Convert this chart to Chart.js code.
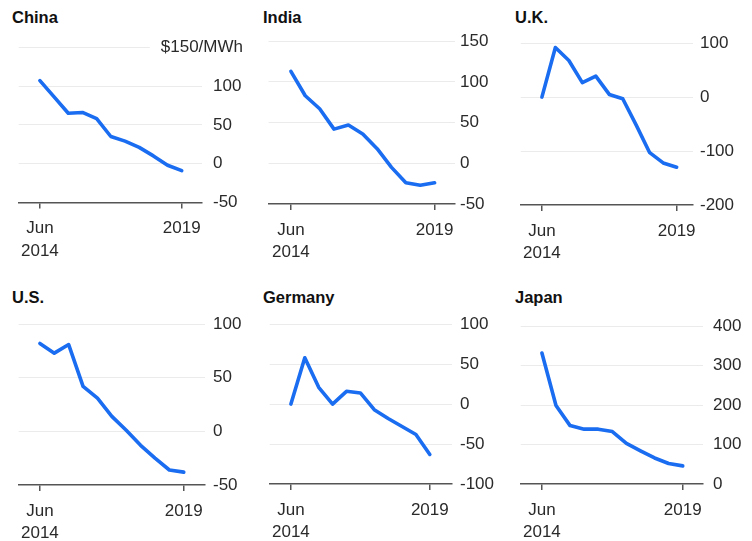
<!DOCTYPE html>
<html>
<head>
<meta charset="utf-8">
<script src="https://cdn.jsdelivr.net/npm/chart.js@4"></script>
<style>
  html, body { margin:0; padding:0; background:#fff; }
  body { width:752px; height:541px; position:relative; overflow:hidden; font-family:"Liberation Sans", Arial, sans-serif; }
  .title { position:absolute; font-weight:bold; font-size:16.5px; line-height:16px; color:#111; white-space:nowrap; }
  canvas { position:absolute; }
</style>
</head>
<body>
<script>
// ---- data (semiannual points, Jun 2014 .. 2019) ----
const xTickLabels = [["Jun", "2014"], "2019"];
const xTickIndex = [0, 10];

const china   = [107, 86, 65, 66, 58, 35, 29, 21, 10, -2, -9];
const india   = [113, 83, 67, 42, 47, 36, 18, -5, -24, -27, -24];
const uk      = [0, 92, 68, 27, 39, 5, -3, -52, -103, -122, -130];
const us      = [82, 73, 81, 42, 31, 14, 1, -13, -25, -36, -38];
const germany = [0, 58, 21, 0, 16, 14, -7, -18, -28, -38, -63];
const japan   = [332, 199, 148, 139, 139, 133, 103, 84, 66, 52, 46];

const chinaTicks   = [-50, 0, 50, 100, 150];
const indiaTicks   = [-50, 0, 50, 100, 150];
const ukTicks      = [-200, -100, 0, 100];
const usTicks      = [-50, 0, 50, 100];
const germanyTicks = [-100, -50, 0, 50, 100];
const japanTicks   = [0, 100, 200, 300, 400];

const titles = ["China", "India", "U.K.", "U.S.", "Germany", "Japan"];
const unitLabel = "$150/MWh";

// ---- layout ----
const panels = [
  { title: titles[0], data: china,   ticks: chinaTicks,   L: 12,  R: 202, T: 38,  B: 202.5, x0: 34,  x10: 181, labelX: 213, tx: 12,  ty: 9,   unit: true },
  { title: titles[1], data: india,   ticks: indiaTicks,   L: 263, R: 455, T: 38,  B: 204,   x0: 286, x10: 434, labelX: 460, tx: 263, ty: 9 },
  { title: titles[2], data: uk,      ticks: ukTicks,      L: 514, R: 693, T: 38,  B: 205,   x0: 536, x10: 676, labelX: 700, tx: 515, ty: 9 },
  { title: titles[3], data: us,      ticks: usTicks,      L: 12,  R: 205, T: 318, B: 485,   x0: 34,  x10: 183, labelX: 213, tx: 12,  ty: 288.5 },
  { title: titles[4], data: germany, ticks: germanyTicks, L: 263, R: 452, T: 318, B: 484,   x0: 285, x10: 429, labelX: 460, tx: 263, ty: 288.5 },
  { title: titles[5], data: japan,   ticks: japanTicks,   L: 514, R: 703, T: 318, B: 484,   x0: 536, x10: 682, labelX: 713, tx: 515, ty: 288.5 }
];

Chart.defaults.font.family = '"Liberation Sans", Arial, Helvetica, sans-serif';
Chart.defaults.font.size = 17;
Chart.defaults.color = '#2a2a2a';

const PAD_TOP = 12;
const CW = 238;

const unitPlugin = {
  id: 'unitLabel',
  afterDraw(chart) {
    if (!chart.options.plugins.unitLabel || !chart.options.plugins.unitLabel.show) return;
    const ys = chart.scales.y;
    const y = ys.getPixelForValue(ys.max);
    const ctx = chart.ctx;
    ctx.save();
    ctx.font = '17px "Liberation Sans", Arial, sans-serif';
    ctx.fillStyle = '#2a2a2a';
    ctx.textAlign = 'right';
    ctx.textBaseline = 'middle';
    const xr = chart.width - 7;
    ctx.fillText(unitLabel, xr, y);
    const w = ctx.measureText(unitLabel).width;
    ctx.strokeStyle = '#ebebeb';
    ctx.lineWidth = 1;
    ctx.beginPath();
    ctx.moveTo(chart.chartArea.left, Math.round(y) + 0.5);
    ctx.lineTo(xr - w - 11, Math.round(y) + 0.5);
    ctx.stroke();
    ctx.restore();
  }
};

panels.forEach(p => {
  const t = document.createElement('div');
  t.className = 'title';
  t.textContent = p.title;
  t.style.left = p.tx + 'px';
  t.style.top = p.ty + 'px';
  document.body.appendChild(t);

  const CH = p.T < 100 ? 240 : (541 - (p.T - PAD_TOP));
  const cv = document.createElement('canvas');
  cv.width = CW; cv.height = CH;
  cv.style.left = p.L + 'px';
  cv.style.top = (p.T - PAD_TOP) + 'px';
  cv.style.width = CW + 'px'; cv.style.height = CH + 'px';
  document.body.appendChild(cv);

  const ppi = (p.x10 - p.x0) / 10;
  const xmin = -(p.x0 - p.L) / ppi;
  const xmax = 10 + (p.R - p.x10) / ppi;
  const ymin = Math.min(...p.ticks), ymax = Math.max(...p.ticks);

  new Chart(cv, {
    type: 'line',
    data: {
      datasets: [{
        data: p.data.map((v, i) => ({ x: i, y: v })),
        borderColor: '#1a6cf0',
        borderWidth: 3.6,
        pointRadius: 0,
        tension: 0,
        borderJoinStyle: 'round',
        borderCapStyle: 'round',
        clip: false
      }]
    },
    options: {
      responsive: false,
      animation: false,
      devicePixelRatio: 1,
      layout: { padding: { top: PAD_TOP, left: 0, right: 0, bottom: 0 } },
      plugins: { legend: { display: false }, tooltip: { enabled: false }, unitLabel: { show: !!p.unit } },
      scales: {
        x: {
          type: 'linear',
          min: xmin, max: xmax,
          afterBuildTicks: s => { s.ticks = xTickIndex.map(v => ({ value: v })); },
          afterFit: s => { s.height = CH - PAD_TOP - (p.B - p.T); },
          ticks: {
            autoSkip: false, maxRotation: 0, padding: 9,
            font: { size: 17, lineHeight: 1.32 },
            callback: (v) => xTickLabels[xTickIndex.indexOf(v)]
          },
          grid: { drawOnChartArea: false, drawTicks: true, tickLength: 6, color: '#555', lineWidth: 1.5 },
          border: { display: true, color: '#555', width: 1.5 }
        },
        y: {
          position: 'right',
          min: ymin, max: ymax,
          afterBuildTicks: s => { s.ticks = p.ticks.map(v => ({ value: v })); },
          afterFit: s => { s.width = CW - (p.R - p.L); },
          ticks: {
            padding: p.labelX - p.R,
            font: { size: 17 },
            callback: (v) => (p.unit && v === ymax) ? '' : String(v)
          },
          grid: {
            drawTicks: false,
            lineWidth: 1,
            color: ctx => {
              const v = ctx.tick && ctx.tick.value;
              if (v === ymin) return 'rgba(0,0,0,0)';
              if (p.unit && v === ymax) return 'rgba(0,0,0,0)';
              return '#ebebeb';
            }
          },
          border: { display: false }
        }
      }
    },
    plugins: [unitPlugin]
  });
});
</script>
</body>
</html>
